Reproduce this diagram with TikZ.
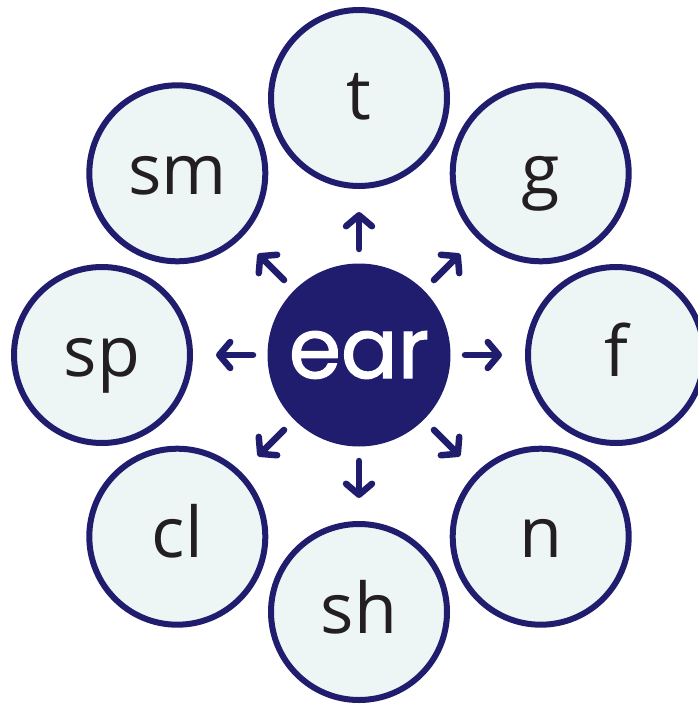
\documentclass[tikz,border=0pt]{standalone}
\usepackage{fontspec}
\setmainfont{Open Sans}
\newfontfamily\earfont{Poppins}[FakeBold=1.5]
\usetikzlibrary{arrows.meta,calc}
\definecolor{navy}{HTML}{201D6F}
\definecolor{pale}{HTML}{EDF6F5}
\definecolor{ink}{HTML}{231F20}
\tikzset{
  outer/.style={circle, draw=navy, fill=pale, line width=6pt, minimum size=176pt, inner sep=0pt},
  word/.style={anchor=base, text=ink, font=\fontsize{70}{70}\selectfont, inner sep=0pt},
  arr/.style={draw=navy, line width=6.5pt, line cap=round, line join=round,
    -{Straight Barb[length=11pt, width=26pt, line cap=round, line join=round]}}
}
\begin{document}
\begin{tikzpicture}[x=1pt, y=-1pt]
\useasboundingbox (0,0) rectangle (697,704);
\node[circle, fill=navy, minimum size=183pt, inner sep=0pt] (c) at (359,355) {};
\node[anchor=base, text=white, inner sep=0pt, font=\earfont\fontsize{84}{84}\selectfont] (ct) at (359,378) {ear};
\foreach \n/\x/\y/\t in {t/359/98/t, g/540.7/173.3/g, f/616/355/f, n/540.7/536.7/n, sh/359/612/sh, cl/177.3/536.7/cl, sp/102/355/sp, sm/177.3/173.3/sm}{
  \node[outer] (\n) at (\x,\y) {};
  \node[word] (\n-t) at (\x,\y+21) {\t};
  \draw[arr] ($(c)!106pt!(\n)$) -- ($(c)!143pt!(\n)$);
}
\end{tikzpicture}
\end{document}
